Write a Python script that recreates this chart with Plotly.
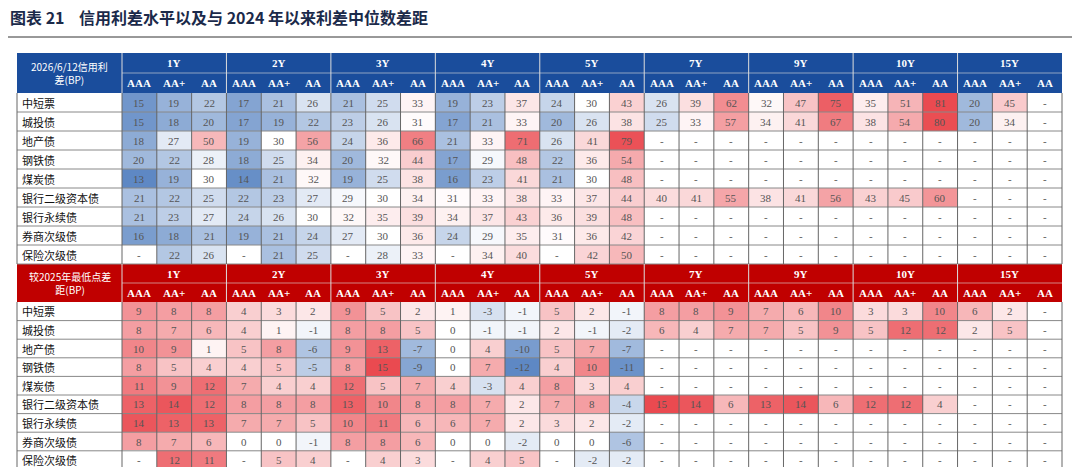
import numpy as np
import plotly.graph_objects as go

N = None
title = "图表 21    信用利差水平以及与 2024 年以来利差中位数差距"
maturities = ["1Y", "2Y", "3Y", "4Y", "5Y", "7Y", "9Y", "10Y", "15Y"]
grades = ["AAA", "AA+", "AA"]
rows = ["中短票", "城投债", "地产债", "钢铁债", "煤炭债", "银行二级资本债", "银行永续债", "券商次级债", "保险次级债"]
top_label = "2026/6/12信用利<br>差(BP)"
bot_label = "较2025年最低点差<br>距(BP)"

spread = [
    [15,19,22, 17,21,26, 21,25,33, 19,23,37, 24,30,43, 26,39,62, 32,47,75, 35,51,81, 20,45,N],
    [15,18,20, 17,19,22, 23,26,31, 17,21,33, 20,26,38, 25,33,57, 34,41,67, 38,54,80, 20,34,N],
    [18,27,50, 19,30,56, 24,36,66, 21,33,71, 26,41,79] + [N]*12,
    [20,22,28, 18,25,34, 20,32,44, 17,29,48, 22,36,54] + [N]*12,
    [13,19,30, 14,21,32, 19,25,38, 16,23,41, 21,30,48] + [N]*12,
    [21,22,25, 22,23,27, 29,30,34, 31,33,38, 33,37,44, 40,41,55, 38,41,56, 43,45,60, N,N,N],
    [21,23,27, 24,26,30, 32,35,39, 34,37,43, 36,39,48] + [N]*12,
    [16,18,21, 19,21,24, 27,30,36, 24,29,35, 31,36,42] + [N]*12,
    [N,22,26, N,21,25, N,28,33, N,34,40, N,42,50] + [N]*12,
]
diff = [
    [9,8,8, 4,3,2, 9,5,2, 1,-3,-1, 5,2,-1, 8,8,9, 7,6,10, 3,3,10, 6,2,N],
    [8,7,6, 4,1,-1, 8,8,5, 0,-1,-1, 2,-1,-2, 6,4,7, 7,5,9, 5,12,12, 2,5,N],
    [10,9,1, 5,8,-6, 9,13,-7, 0,4,-10, 5,7,-7] + [N]*12,
    [8,5,4, 4,5,-5, 8,15,-9, 0,7,-12, 4,10,-11] + [N]*12,
    [11,9,12, 7,4,4, 12,5,7, 4,-3,4, 8,3,4] + [N]*12,
    [13,14,12, 8,8,8, 13,10,8, 8,7,2, 7,8,-4, 15,14,6, 13,14,6, 12,12,4, N,N,N],
    [14,13,13, 7,7,5, 10,11,6, 6,7,2, 3,2,-2] + [N]*12,
    [8,7,6, 0,0,-1, 8,8,6, 0,0,-2, 0,0,-6] + [N]*12,
    [N,12,11, N,5,4, N,4,3, N,4,5, N,-2,-2] + [N]*12,
]

# layout (page-pixel coordinates; page body has an 8px margin)
OFF = 8
X0, XL, XR = 17, 122, 1062
ncol = len(maturities) * 3
cw = (XR - XL) / ncol
xe = [XL + i * cw for i in range(ncol + 1)]
tables = [
    dict(top=53, hh=20, rh=19.0, data=spread, label=top_label, hdr="#1a4d9c",
         zmin=13, zmax=81, mid=30),
    dict(top=264, hh=19, rh=18.6, data=diff, label=bot_label, hdr="#c00000",
         zmin=-12, zmax=15, mid=0),
]
blue, red = "#5e88c4", "#ea4a50"
fig = go.Figure()
shapes, ann = [], []
serif = "Liberation Serif"
cjk = "Noto Sans CJK SC"
for t in tables:
    ys = t["top"] + 2 * t["hh"]
    ye = [ys + k * t["rh"] for k in range(len(rows) + 1)]
    z = np.array([[np.nan if v is None else v for v in r] for r in t["data"]], float)
    p = (t["mid"] - t["zmin"]) / (t["zmax"] - t["zmin"])
    fig.add_trace(go.Heatmap(x=xe, y=ye, z=z, zmin=t["zmin"], zmax=t["zmax"],
                             colorscale=[[0, blue], [p, "#ffffff"], [1, red]],
                             showscale=False, hoverinfo="skip"))
    shapes.append(dict(type="rect", x0=X0, x1=XR, y0=t["top"], y1=ys,
                       fillcolor=t["hdr"], line=dict(width=0), layer="below"))
    ann.append(dict(x=(X0 + XL) / 2, y=t["top"] + t["hh"], text=t["label"], showarrow=False,
                    font=dict(family=cjk, size=10, color="white")))
    for m, name in enumerate(maturities):
        cx = XL + (3 * m + 1.5) * cw
        ann.append(dict(x=cx, y=t["top"] + t["hh"] / 2, text="<b>%s</b>" % name, showarrow=False,
                        font=dict(family=serif, size=11, color="white")))
        for g, gn in enumerate(grades):
            ann.append(dict(x=XL + (3 * m + g + 0.5) * cw, y=t["top"] + 1.5 * t["hh"],
                            text="<b>%s</b>" % gn, showarrow=False,
                            font=dict(family=serif, size=11, color="white")))
        if m > 0:
            shapes.append(dict(type="line", x0=xe[3 * m], x1=xe[3 * m], y0=t["top"], y1=ys,
                               line=dict(color="#dddddd", width=1)))
    shapes.append(dict(type="line", x0=XL, x1=XL, y0=t["top"], y1=ys, line=dict(color="#dddddd", width=1)))
    shapes.append(dict(type="line", x0=XL, x1=XR, y0=t["top"] + t["hh"], y1=t["top"] + t["hh"],
                       line=dict(color="#dddddd", width=0.6)))
    for r, name in enumerate(rows):
        cy = (ye[r] + ye[r + 1]) / 2
        ann.append(dict(x=X0 + 3, y=cy, text=name, showarrow=False, xanchor="left",
                        font=dict(family=cjk, size=11, color="#111111")))
        for c in range(ncol):
            v = t["data"][r][c]
            ann.append(dict(x=(xe[c] + xe[c + 1]) / 2, y=cy, text="-" if v is None else str(v),
                            showarrow=False, font=dict(family=serif, size=11, color="#555555")))
    for y in ye[1:]:
        shapes.append(dict(type="line", x0=X0, x1=XR, y0=y, y1=y, line=dict(color="#888888", width=1)))
    for x in [X0] + xe:
        shapes.append(dict(type="line", x0=x, x1=x, y0=ys, y1=ye[-1], line=dict(color="#666666", width=1)))

shapes.append(dict(type="line", x0=OFF, x1=1080, y0=37, y1=37, line=dict(color="#333333", width=1)))
ann.append(dict(x=OFF, y=17, xanchor="left", text="<b>%s</b>" % title, showarrow=False,
                font=dict(family=cjk, size=16, color="#1b2a4a")))

fig.update_layout(width=1080 - OFF, height=467 - OFF, margin=dict(l=0, r=0, t=0, b=0),
                  plot_bgcolor="white", paper_bgcolor="white",
                  xaxis=dict(range=[OFF, 1080], visible=False, fixedrange=True),
                  yaxis=dict(range=[467, OFF], visible=False, fixedrange=True),
                  shapes=shapes, annotations=ann)
fig.write_html("out.html")
